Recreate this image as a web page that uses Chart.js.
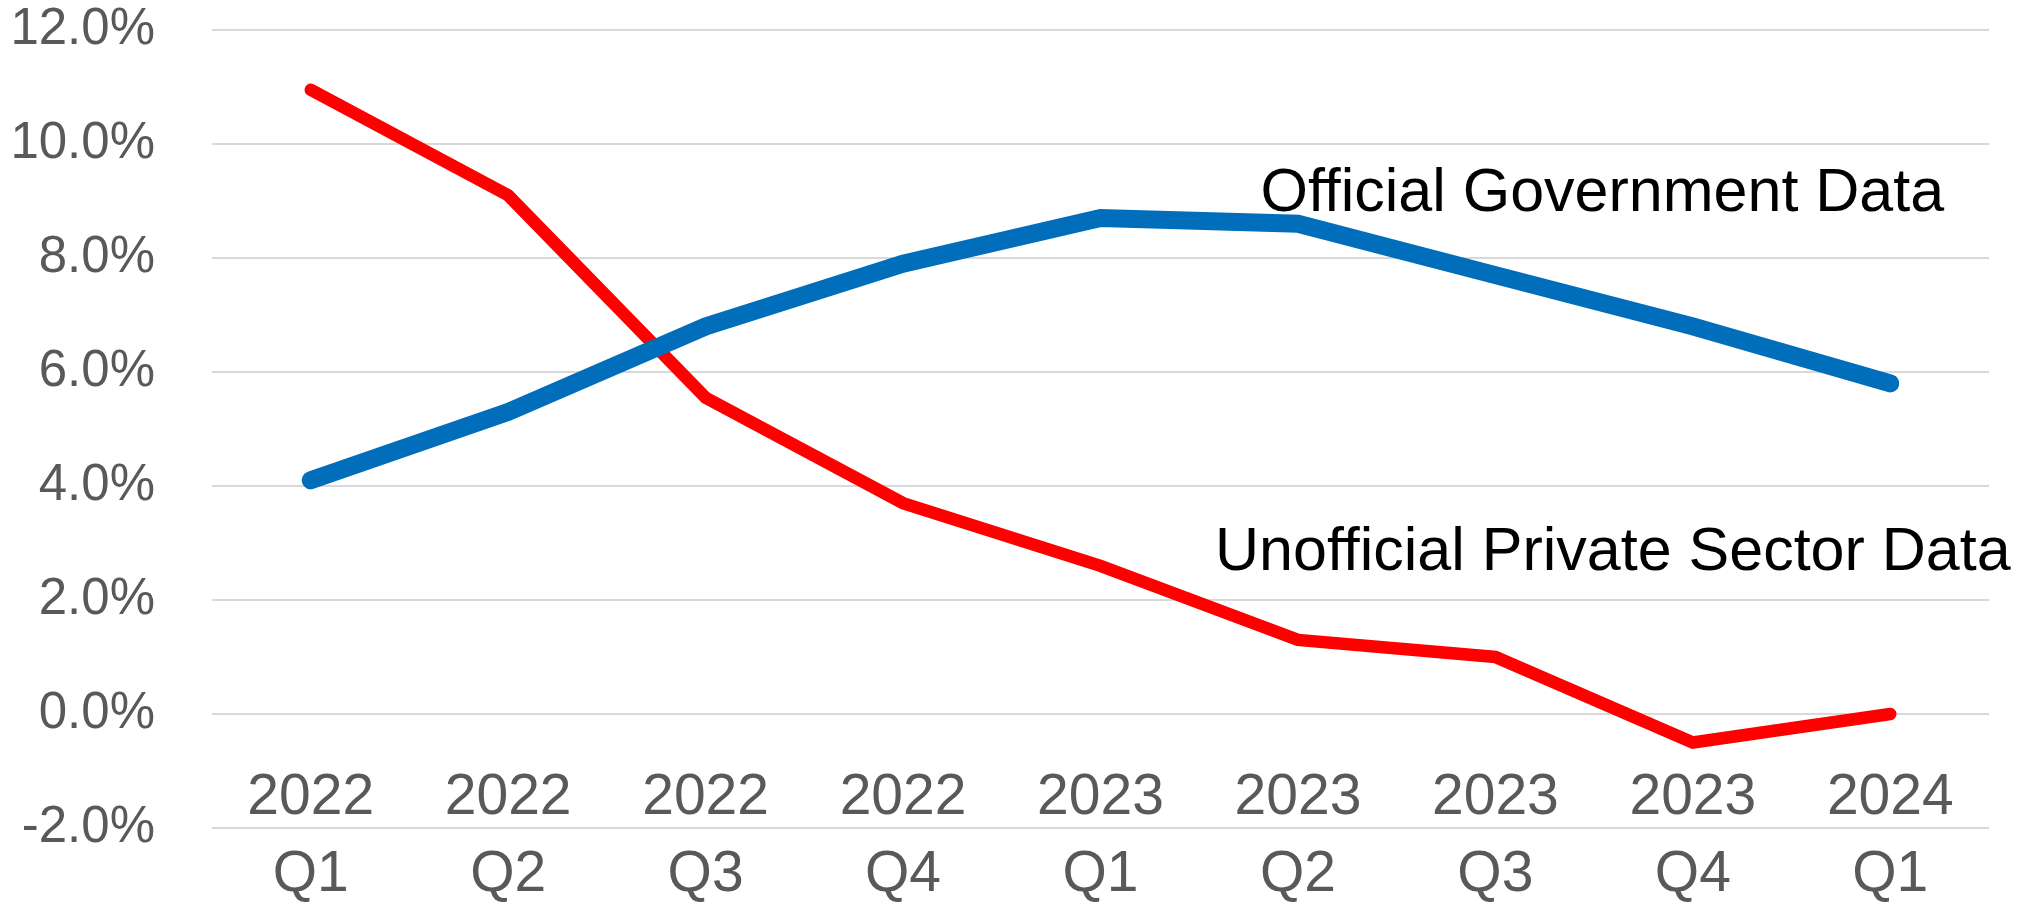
<!DOCTYPE html>
<html>
<head>
<meta charset="utf-8">
<title>Official vs Unofficial Data</title>
<script src="https://cdn.jsdelivr.net/npm/chart.js@4"></script>
<style>
  html, body { margin: 0; padding: 0; background: #ffffff; }
  #wrap { width: 2018px; height: 902px; }
</style>
</head>
<body>
<div id="wrap"><canvas id="lineChart" width="2018" height="902"></canvas></div>
<script>
const quarters = [
    ['2022', 'Q1'], ['2022', 'Q2'], ['2022', 'Q3'], ['2022', 'Q4'],
    ['2023', 'Q1'], ['2023', 'Q2'], ['2023', 'Q3'], ['2023', 'Q4'],
    ['2024', 'Q1']
];
const officialData = [4.1, 5.3, 6.8, 7.9, 8.7, 8.6, 7.7, 6.8, 5.8];
const privateData = [10.95, 9.1, 5.55, 3.7, 2.6, 1.3, 1.0, -0.5, 0.0];
const seriesNames = ['Official Government Data', 'Unofficial Private Sector Data'];

const FONT = '"Liberation Sans", Arial, sans-serif';

// series names written next to their lines, placed in axis units
const lineLabels = [
    { text: seriesNames[0], at: 4.81, value: 8.82 },
    { text: seriesNames[1], at: 4.58, value: 2.52 }
];

const lineLabelPlugin = {
    id: 'lineLabels',
    afterDatasetsDraw(chart) {
        const ctx = chart.ctx;
        const x = chart.scales.x;
        const y = chart.scales.y;
        const step = x.getPixelForValue(1) - x.getPixelForValue(0);
        ctx.save();
        ctx.font = '61px ' + FONT;
        ctx.fillStyle = '#000000';
        ctx.textAlign = 'left';
        ctx.textBaseline = 'alphabetic';
        lineLabels.forEach(l => {
            const px = x.getPixelForValue(0) + l.at * step;
            ctx.fillText(l.text, px, y.getPixelForValue(l.value));
        });
        ctx.restore();
    }
};

function createLineChart() {
    const ctx = document.getElementById('lineChart').getContext('2d');
    return new Chart(ctx, {
        type: 'line',
        data: {
            labels: quarters,
            datasets: [{
                label: seriesNames[0],
                data: officialData,
                borderColor: '#006EBA',
                borderWidth: 18,
                borderCapStyle: 'round',
                pointRadius: 0,
                tension: 0
            }, {
                label: seriesNames[1],
                data: privateData,
                borderColor: '#FF0000',
                borderWidth: 12.5,
                borderCapStyle: 'round',
                pointRadius: 0,
                tension: 0
            }]
        },
        options: {
            responsive: false,
            animation: false,
            layout: { padding: { top: 0, right: 29, left: 0, bottom: 0 } },
            plugins: {
                legend: { display: false },
                tooltip: { enabled: false }
            },
            scales: {
                x: {
                    offset: true,
                    grid: { display: false, drawTicks: false },
                    border: { display: false },
                    ticks: {
                        // mirrored so the year row may sit above the -2% line
                        mirror: true,
                        color: '#595959',
                        font: { family: FONT, size: 57, lineHeight: 1.35 },
                        padding: -9,
                        maxRotation: 0,
                        autoSkip: false
                    },
                    afterFit(scale) {
                        scale.height = 74;
                        scale.paddingLeft = 0;
                        scale.paddingRight = 0;
                    }
                },
                y: {
                    min: -2,
                    max: 12,
                    grid: { color: '#D9D9D9', lineWidth: 2, drawTicks: false },
                    border: { display: false },
                    ticks: {
                        stepSize: 2,
                        color: '#595959',
                        font: { family: FONT, size: 51 },
                        padding: 57,
                        callback: v => v.toFixed(1) + '%'
                    },
                    afterFit(scale) {
                        scale.width = 212;
                        scale.paddingTop = 30;
                        scale.paddingBottom = 0;
                    }
                }
            }
        },
        plugins: [lineLabelPlugin]
    });
}

window.onload = function () {
    createLineChart();
};
</script>
</body>
</html>
